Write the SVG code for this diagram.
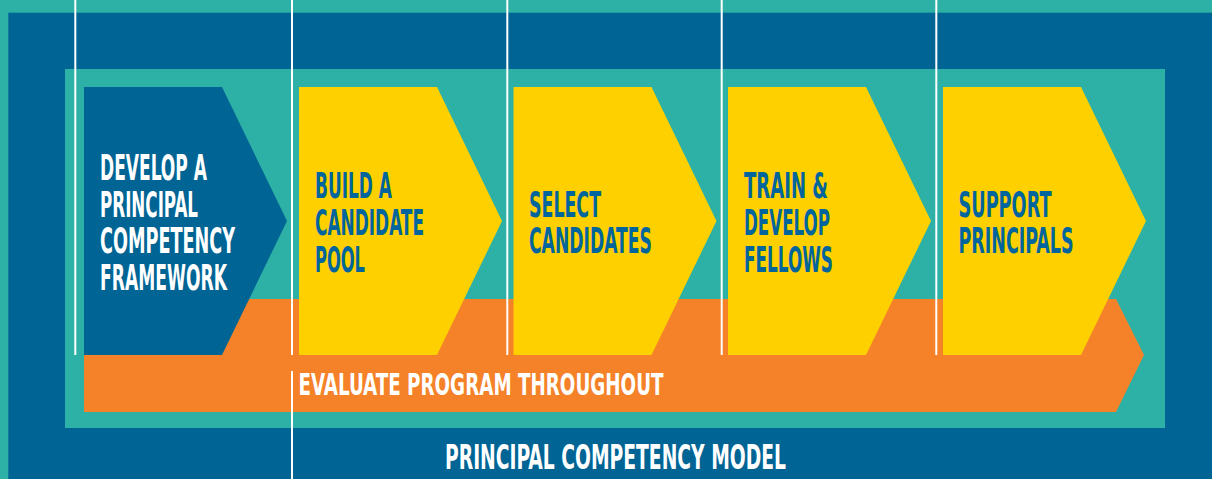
<svg xmlns="http://www.w3.org/2000/svg" width="1212" height="479" viewBox="0 0 1212 479">
<style>
.t{font-family:"DejaVu Sans","Liberation Sans",sans-serif;font-stretch:condensed;font-weight:bold;}
.w{fill:#FFFFFF;}
.b{fill:#00659C;}
.big{font-size:36px;}
.yel{fill:#FFD000;}
.vl{stroke:#FFFFFF;stroke-width:2;fill:none;}
</style>
<defs>
<polygon id="chev" points="0,87 138,87 203,221 138,355 0,355"/>
</defs>
<g id="frame">
<rect x="0" y="0" width="1212" height="479" fill="#2DB0A5"/>
<rect x="8.3" y="12.7" width="1204" height="467" fill="#006595"/>
<rect x="65" y="69" width="1100" height="359" fill="#2DB0A5"/>
</g>
<g id="evaluate">
<polygon points="84,299 1116,299 1144,355 1116,412 84,412" fill="#F58229"/>
<text class="t w" x="298.5" y="395" font-size="31" textLength="365" lengthAdjust="spacingAndGlyphs">EVALUATE PROGRAM THROUGHOUT</text>
</g>
<g id="develop">
<use href="#chev" x="84" fill="#006595"/>
<text class="t w big"><tspan x="100" y="180" textLength="107" lengthAdjust="spacingAndGlyphs">DEVELOP A</tspan><tspan x="100" y="216.5" textLength="98" lengthAdjust="spacingAndGlyphs">PRINCIPAL</tspan><tspan x="100" y="253" textLength="135" lengthAdjust="spacingAndGlyphs">COMPETENCY</tspan><tspan x="100" y="289.5" textLength="127" lengthAdjust="spacingAndGlyphs">FRAMEWORK</tspan></text>
</g>
<g id="build">
<use href="#chev" x="299" class="yel"/>
<text class="t b big"><tspan x="315" y="197.5" textLength="77" lengthAdjust="spacingAndGlyphs">BUILD A</tspan><tspan x="315" y="234.5" textLength="109" lengthAdjust="spacingAndGlyphs">CANDIDATE</tspan><tspan x="315" y="271.5" textLength="50" lengthAdjust="spacingAndGlyphs">POOL</tspan></text>
</g>
<g id="select">
<use href="#chev" x="513.5" class="yel"/>
<text class="t b big"><tspan x="529" y="216.5" textLength="72" lengthAdjust="spacingAndGlyphs">SELECT</tspan><tspan x="529" y="253" textLength="123" lengthAdjust="spacingAndGlyphs">CANDIDATES</tspan></text>
</g>
<g id="train">
<use href="#chev" x="728" class="yel"/>
<text class="t b big"><tspan x="744" y="197.5" textLength="84" lengthAdjust="spacingAndGlyphs">TRAIN &amp;</tspan><tspan x="744" y="234.5" textLength="86" lengthAdjust="spacingAndGlyphs">DEVELOP</tspan><tspan x="744" y="271.5" textLength="89" lengthAdjust="spacingAndGlyphs">FELLOWS</tspan></text>
</g>
<g id="support">
<use href="#chev" x="943" class="yel"/>
<text class="t b big"><tspan x="958.5" y="216.5" textLength="93" lengthAdjust="spacingAndGlyphs">SUPPORT</tspan><tspan x="958.5" y="253" textLength="115" lengthAdjust="spacingAndGlyphs">PRINCIPALS</tspan></text>
</g>
<g id="model">
<text class="t w" x="445" y="468.5" font-size="34" textLength="341" lengthAdjust="spacingAndGlyphs">PRINCIPAL COMPETENCY MODEL</text>
</g>
<g id="connectors">
<line class="vl" x1="75.3" y1="0" x2="75.3" y2="355"/>
<line class="vl" x1="292" y1="0" x2="292" y2="355"/>
<line class="vl" x1="292" y1="371" x2="292" y2="479"/>
<line class="vl" x1="507.3" y1="0" x2="507.3" y2="355"/>
<line class="vl" x1="721.7" y1="0" x2="721.7" y2="355"/>
<line class="vl" x1="936.3" y1="0" x2="936.3" y2="355"/>
</g>
</svg>
